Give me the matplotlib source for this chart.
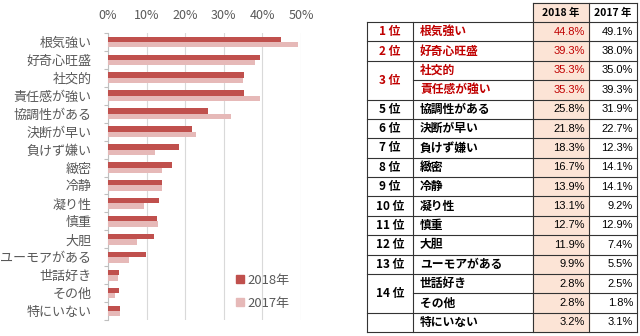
import numpy as np
import matplotlib
matplotlib.use("Agg")
import matplotlib.pyplot as plt
from matplotlib.patches import Rectangle, Patch

plt.rcParams['font.family'] = ['Noto Sans CJK JP', 'DejaVu Sans']

categories = ["根気強い", "好奇心旺盛", "社交的", "責任感が強い", "協調性がある",
              "決断が早い", "負けず嫌い", "緻密", "冷静", "凝り性", "慎重",
              "大胆", "ユーモアがある", "世話好き", "その他", "特にいない"]
v2018 = [44.8, 39.3, 35.3, 35.3, 25.8, 21.8, 18.3, 16.7, 13.9, 13.1, 12.7,
         11.9, 9.9, 2.8, 2.8, 3.2]
v2017 = [49.1, 38.0, 35.0, 39.3, 31.9, 22.7, 12.3, 14.1, 14.1, 9.2, 12.9,
         7.4, 5.5, 2.5, 1.8, 3.1]
ranks = ["1 位", "2 位", "3 位", None, "5 位", "6 位", "7 位", "8 位", "9 位",
         "10 位", "11 位", "12 位", "13 位", "14 位", None, ""]
# rows merged with the row below in the rank column
merged = [2, 13]
n_red = 4

c2018 = "#C0504D"
c2017 = "#E6B9B8"
grey = "#595959"
red = "#C00000"

W, H = 640, 336
fig = plt.figure(figsize=(W / 100, H / 100), dpi=100)

# ---- bar chart ----
x0, x1, y0, y1 = 108, 301, 33, 320
ax = fig.add_axes([x0 / W, 1 - y1 / H, (x1 - x0) / W, (y1 - y0) / H])
y = np.arange(len(categories))
h = 0.3
ax.barh(y - h / 2, v2018, height=h, color=c2018, zorder=3)
ax.barh(y + h / 2, v2017, height=h, color=c2017, zorder=3)
ax.set_xlim(0, 50)
ax.set_ylim(len(categories) - 0.5, -0.5)
ax.set_xticks(np.arange(0, 51, 10))
ax.set_xticklabels([f"{t}%" for t in range(0, 51, 10)])
ax.xaxis.tick_top()
ax.tick_params(axis="x", length=0, pad=8, labelsize=9, labelcolor=grey)
ax.set_yticks(y)
ax.set_yticklabels(categories)
ax.tick_params(axis="y", which="major", length=0, pad=12, labelsize=9.4,
               labelcolor=grey)
ax.set_yticks(np.arange(len(categories) + 1) - 0.5, minor=True)
ax.tick_params(axis="y", which="minor", length=3, color="#BFBFBF", width=0.8)
ax.grid(axis="x", color="#D9D9D9", lw=0.8, zorder=0)
for s in ["top", "right", "bottom"]:
    ax.spines[s].set_visible(False)
ax.spines["left"].set_color("#BFBFBF")
ax.spines["left"].set_linewidth(0.8)

handles = [Patch(color=c2018), Patch(color=c2017)]
fig.legend(handles, ["2018年", "2017年"], loc="upper left",
           bbox_to_anchor=(224 / W, 1 - 262 / H), frameon=False,
           handlelength=0.6, handleheight=0.6, handletextpad=0.3,
           labelspacing=0.75, fontsize=9.4, labelcolor=grey)

# ---- table ----
tx = fig.add_axes([0, 0, 1, 1])
tx.set_xlim(0, W)
tx.set_ylim(H, 0)
tx.axis("off")

cols = [367, 413, 533, 589, 637]
top, row0 = 3, 22
rh = (332 - row0) / len(categories)
bottom = row0 + rh * len(categories)
lw = 0.8
lc = "#333333"

tx.add_patch(Rectangle((cols[2], top), cols[3] - cols[2], bottom - top,
                       color="#FCE4D6", zorder=0))
# header
tx.plot([cols[2], cols[4]], [top, top], color=lc, lw=lw)
for cx in cols[2:]:
    tx.plot([cx, cx], [top, row0], color=lc, lw=lw)
tx.text((cols[2] + cols[3]) / 2, (top + row0) / 2, "2018 年", ha="center",
        va="center", fontsize=7.5, fontweight="bold")
tx.text((cols[3] + cols[4]) / 2, (top + row0) / 2, "2017 年", ha="center",
        va="center", fontsize=7.5, fontweight="bold")

# horizontal lines
for i in range(len(categories) + 1):
    yy = row0 + i * rh
    start = cols[1] if (i - 1) in merged else cols[0]
    tx.plot([start, cols[4]], [yy, yy], color=lc, lw=lw)
for cx in cols:
    tx.plot([cx, cx], [row0, bottom], color=lc, lw=lw)

for i, name in enumerate(categories):
    yc = row0 + (i + 0.5) * rh
    col = red if i < n_red else "black"
    r = ranks[i]
    if r:
        ry = yc + rh / 2 if i in merged else yc
        tx.text((cols[0] + cols[1]) / 2, ry, r, ha="center", va="center",
                fontsize=8.5, fontweight="bold", color=col)
    tx.text(cols[1] + 7, yc, name, ha="left", va="center", fontsize=8.5,
            fontweight="bold", color=col)
    tx.text(cols[3] - 4, yc, f"{v2018[i]:.1f}%", ha="right", va="center",
            fontsize=8, color=col, family=["Liberation Sans", "DejaVu Sans"])
    tx.text(cols[4] - 4, yc, f"{v2017[i]:.1f}%", ha="right", va="center",
            fontsize=8, color="black", family=["Liberation Sans", "DejaVu Sans"])

fig.savefig("out.png", dpi=100)
